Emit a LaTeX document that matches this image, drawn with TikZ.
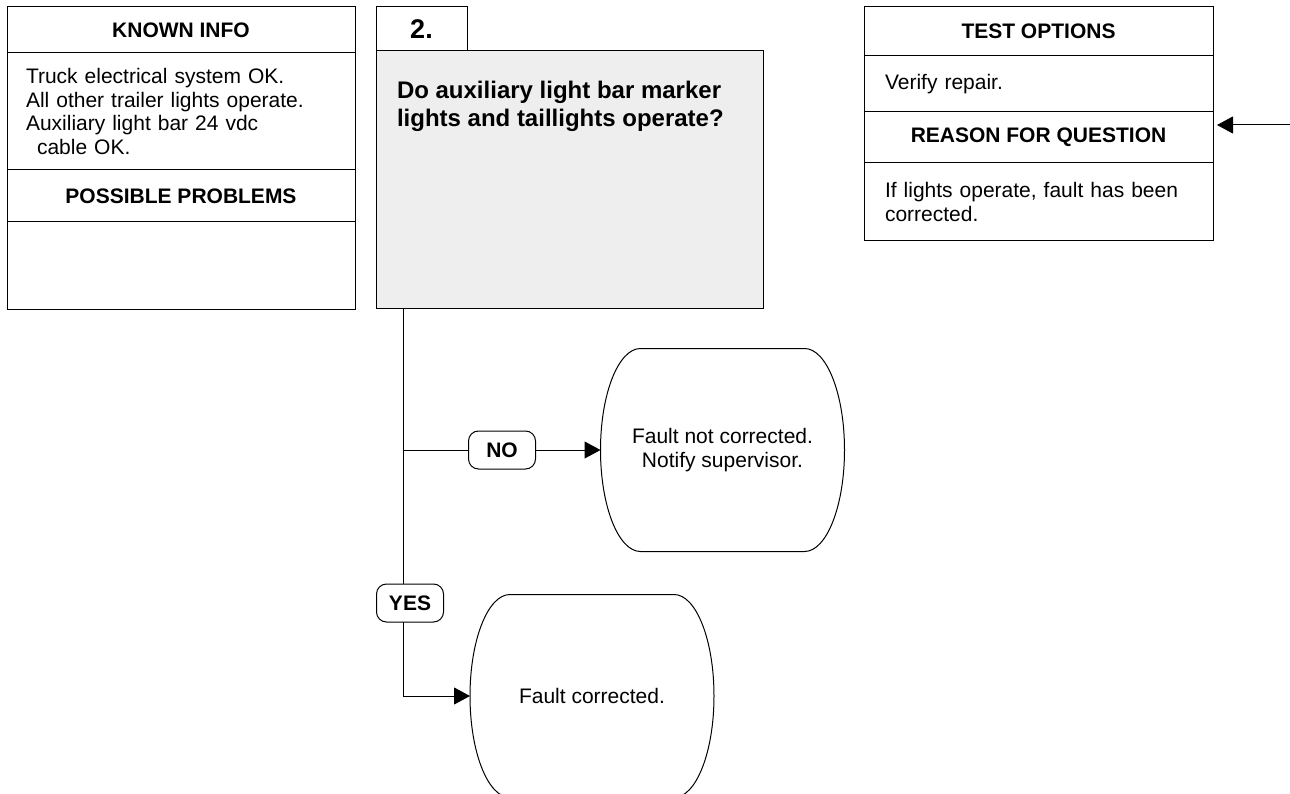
\documentclass[tikz,border=0pt]{standalone}
\usepackage{fontspec}
\setmainfont{Liberation Sans}
\usepackage{tikz}
\usetikzlibrary{positioning,arrows.meta}
\usepackage{xcolor}
\definecolor{qgray}{RGB}{238,238,238}

\begin{document}
\begin{tikzpicture}[x=1pt,y=1pt,line width=1pt,
  every node/.style={font=\fontsize{21}{23.5}\selectfont,outer sep=0pt},
  head/.style={draw,minimum width=#1,inner sep=0pt,font=\fontsize{21}{23.5}\selectfont\bfseries},
  lbody/.style={draw,text width=310pt,inner xsep=19pt,inner ysep=0pt,align=left},
  rbody/.style={draw,text width=307pt,inner xsep=21pt,inner ysep=0pt,align=left},
  pill/.style={draw,fill=white,rounded corners=10pt,minimum width=67pt,minimum height=38pt,inner sep=0pt,font=\fontsize{21}{23.5}\selectfont\bfseries},
  term/.style={minimum width=244pt,minimum height=203pt,inner sep=0pt,align=center},
  arr/.style={-{Triangle[length=16pt,width=17pt]}}]
\useasboundingbox (0,0) rectangle (1290,-794);
\node[head=348pt,minimum height=46pt,anchor=north west] (known) at (7,-7) {KNOWN INFO};
\node[lbody,minimum height=117pt,below=0pt of known] (knownbody) {Truck electrical system OK.\\All other trailer lights operate.\\Auxiliary light bar 24 vdc\\\hspace*{11pt}cable OK.};
\node[head=348pt,minimum height=52pt,below=0pt of knownbody] (problems) {POSSIBLE PROBLEMS};
\node[draw,minimum width=348pt,minimum height=87pt,below=0pt of problems] (problemsbody) {};
\node[draw,minimum width=91pt,minimum height=44pt,inner sep=0pt,anchor=north west,font=\fontsize{27}{30}\selectfont\bfseries] (step) at (376,-7) {2.};
\node[draw,fill=qgray,minimum width=387pt,minimum height=257pt,anchor=north west] (question) at (step.south west) {};
\node[anchor=north west,inner sep=0pt,align=left,font=\fontsize{24}{28}\selectfont\bfseries] (qtext) at ([xshift=21pt,yshift=-30pt]question.north west) {Do auxiliary light bar marker\\lights and taillights operate?};
\node[head=349pt,minimum height=49pt,anchor=north west] (test) at (864,-7) {TEST OPTIONS};
\node[rbody,minimum height=56pt,below=0pt of test] (testbody) {Verify repair.};
\node[head=349pt,minimum height=51pt,below=0pt of testbody] (reason) {REASON FOR QUESTION};
\node[rbody,minimum height=78pt,below=0pt of reason] (reasonbody) {If lights operate, fault has been\\corrected.};
\node[pill] (no) at (502,-450) {NO};
\node[pill] (yes) at (410,-603) {YES};
\node[term] (notfixed) at (722.5,-450) {Fault not corrected.\\Notify supervisor.};
\node[term] (fixed) at (592,-696) {Fault corrected.};
\draw ([xshift=40pt]notfixed.north west) -- ([xshift=-40pt]notfixed.north east) arc[start angle=90,end angle=-90,x radius=40,y radius=101.5] -- ([xshift=40pt]notfixed.south west) arc[start angle=270,end angle=90,x radius=40,y radius=101.5] -- cycle;
\draw ([xshift=40pt]fixed.north west) -- ([xshift=-40pt]fixed.north east) arc[start angle=90,end angle=-90,x radius=40,y radius=101.5] -- ([xshift=40pt]fixed.south west) arc[start angle=270,end angle=90,x radius=40,y radius=101.5] -- cycle;
\coordinate (trunk) at ([xshift=27pt]question.south west);
\coordinate (entry) at (1290,-125);
\draw (trunk) -- (trunk |- yes.north);
\draw[arr] (trunk |- yes.south) |- (fixed.west);
\draw (trunk |- no.west) -- (no.west);
\draw[arr] (no.east) -- (notfixed.west);
\draw[arr,shorten >=4pt] (entry) -- (entry -| reason.east);
\end{tikzpicture}
\end{document}
